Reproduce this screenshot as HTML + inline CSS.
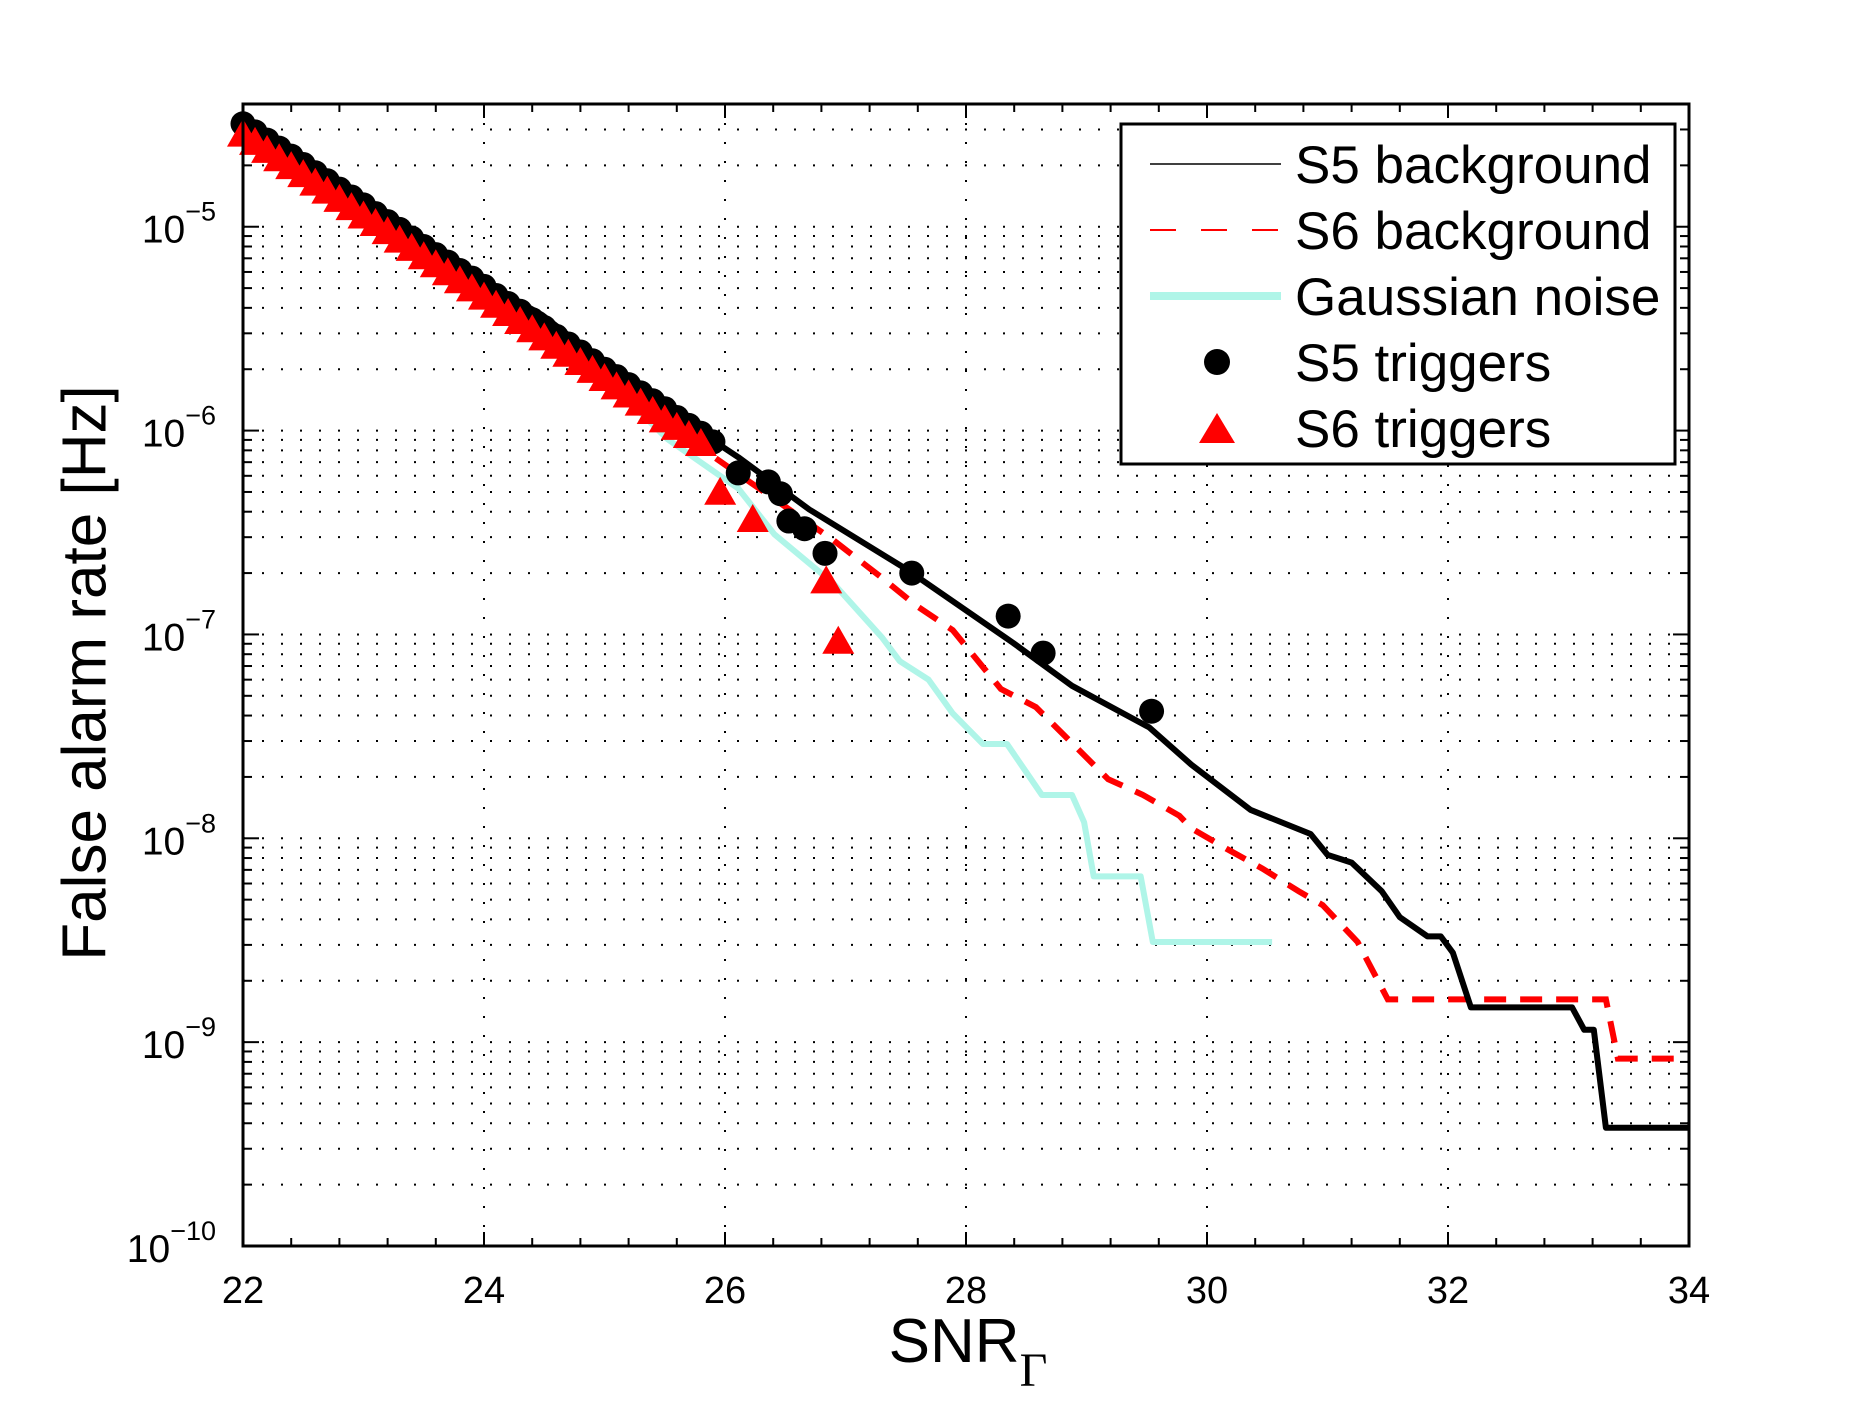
<!DOCTYPE html>
<html><head><meta charset="utf-8"><style>html,body{margin:0;padding:0;background:#fff}svg{display:block}</style></head>
<body>
<svg id="chart" width="1867" height="1404" xmlns="http://www.w3.org/2000/svg" font-family="'Liberation Sans', sans-serif">
<rect width="1867" height="1404" fill="#fff"/>
<g id="grid"></g>
<g id="ticks"></g>
<g id="series"></g>
<rect x="243" y="104" width="1446" height="1142" fill="none" stroke="#000" stroke-width="3"/>
<g id="labels"></g>
<text x="89" y="673" font-size="62" text-anchor="middle" transform="rotate(-90 89 673)" dominant-baseline="middle">False alarm rate [Hz]</text>
<text x="968" y="1362" font-size="62" text-anchor="middle">SNR<tspan font-family="'Liberation Serif', serif" font-size="48" dy="24">Γ</tspan></text>
<g>
<rect x="1121" y="124" width="554" height="340" fill="#fff" stroke="#000" stroke-width="3"/>
<line x1="1150" y1="164" x2="1281" y2="164" stroke="#000" stroke-width="1.5"/>
<text x="1295" y="183" font-size="53">S5 background</text>
<line x1="1150" y1="230" x2="1281" y2="230" stroke="#f00" stroke-width="2" stroke-dasharray="26,25"/>
<text x="1295" y="249" font-size="53">S6 background</text>
<line x1="1150" y1="296" x2="1281" y2="296" stroke="#aff5e8" stroke-width="8"/>
<text x="1295" y="315" font-size="53">Gaussian noise</text>
<circle cx="1217" cy="362" r="13" fill="#000"/>
<text x="1295" y="381" font-size="53">S5 triggers</text>
<polygon points="1217,413 1235,443 1199,443" fill="#f00"/>
<text x="1295" y="447" font-size="53">S6 triggers</text>
</g>
</svg>
<script>
const xTicks=[22,24,26,28,30,32,34];
const yDecades=[-10,-9,-8,-7,-6,-5];
const s5bgX=[22,22.95,23.94,24.48,24.93,25.52,26.11,26.7,27.5,28.39,28.88,29.52,29.87,30.36,30.86,31.0,31.2,31.45,31.6,31.83,31.94,32.04,32.19,33.03,33.13,33.21,33.31,34];
const s5bgY=[3.2e-5,1.35e-5,5.6e-6,3.7e-6,2.3e-6,1.26e-6,7.4e-7,4.1e-7,2.1e-7,9.1e-8,5.6e-8,3.5e-8,2.3e-8,1.38e-8,1.05e-8,8.3e-9,7.6e-9,5.5e-9,4.1e-9,3.3e-9,3.3e-9,2.75e-9,1.48e-9,1.48e-9,1.15e-9,1.15e-9,3.8e-10,3.8e-10];
const s6bgX=[22,24.43,25.91,26.9,27.3,27.59,27.89,28.29,28.58,29.18,29.47,29.77,29.87,30.16,30.46,30.76,30.96,31.25,31.5,33.31,33.41,34];
const s6bgY=[3.0e-5,3.2e-6,7.4e-7,2.9e-7,1.9e-7,1.38e-7,1.05e-7,5.4e-8,4.4e-8,1.95e-8,1.63e-8,1.29e-8,1.12e-8,8.9e-9,7.1e-9,5.5e-9,4.7e-9,3.1e-9,1.62e-9,1.62e-9,8.3e-10,8.3e-10];
const gaussX=[22,24.53,24.93,25.52,26.11,26.41,26.9,27.3,27.45,27.69,27.89,28.14,28.34,28.63,28.88,28.98,29.06,29.45,29.55,30.54];
const gaussY=[3.0e-5,3.0e-6,2.0e-6,9.1e-7,5.2e-7,3.1e-7,1.78e-7,9.7e-8,7.4e-8,6.0e-8,4.1e-8,2.9e-8,2.9e-8,1.63e-8,1.63e-8,1.2e-8,6.5e-9,6.5e-9,3.1e-9,3.1e-9];
const s5trigX=[22.0,22.1,22.2,22.3,22.4,22.5,22.6,22.7,22.8,22.9,23.0,23.1,23.2,23.3,23.4,23.5,23.6,23.7,23.8,23.9,24.0,24.1,24.2,24.3,24.4,24.5,24.6,24.7,24.8,24.9,25.0,25.1,25.2,25.3,25.4,25.5,25.6,25.7,25.8,25.9,26.11,26.36,26.46,26.53,26.66,26.83,27.55,28.35,28.64,29.54];
const s5trigY=[3.2e-5,2.92e-5,2.66e-5,2.43e-5,2.22e-5,2.02e-5,1.84e-5,1.68e-5,1.53e-5,1.4e-5,1.28e-5,1.16e-5,1.06e-5,9.7e-6,8.8e-6,8.0e-6,7.3e-6,6.7e-6,6.1e-6,5.6e-6,5.1e-6,4.6e-6,4.2e-6,3.85e-6,3.5e-6,3.2e-6,2.9e-6,2.66e-6,2.43e-6,2.2e-6,2.0e-6,1.84e-6,1.68e-6,1.53e-6,1.4e-6,1.28e-6,1.16e-6,1.06e-6,9.7e-7,8.8e-7,6.2e-7,5.6e-7,4.9e-7,3.6e-7,3.3e-7,2.5e-7,2.0e-7,1.23e-7,8.1e-8,4.2e-8];
const s6trigX=[22.0,22.1,22.2,22.3,22.4,22.5,22.6,22.7,22.8,22.9,23.0,23.1,23.2,23.3,23.4,23.5,23.6,23.7,23.8,23.9,24.0,24.1,24.2,24.3,24.4,24.5,24.6,24.7,24.8,24.9,25.0,25.1,25.2,25.3,25.4,25.5,25.6,25.7,25.8,25.96,26.23,26.84,26.94];
const s6trigY=[2.8e-5,2.55e-5,2.33e-5,2.12e-5,1.94e-5,1.77e-5,1.61e-5,1.47e-5,1.34e-5,1.22e-5,1.11e-5,1.02e-5,9.3e-6,8.45e-6,7.7e-6,7.0e-6,6.4e-6,5.85e-6,5.34e-6,4.87e-6,4.44e-6,4.05e-6,3.69e-6,3.37e-6,3.07e-6,2.8e-6,2.55e-6,2.33e-6,2.12e-6,1.94e-6,1.77e-6,1.61e-6,1.47e-6,1.34e-6,1.22e-6,1.11e-6,1.02e-6,9.3e-7,8.5e-7,4.9e-7,3.6e-7,1.8e-7,9.1e-8];

const L=243,R=1689,T=104,B=1246,XMIN=22,XMAX=34,LMIN=-10,LMAX=Math.log10(4e-5);
const NS='http://www.w3.org/2000/svg';
function sx(v){return L+(v-XMIN)/(XMAX-XMIN)*(R-L);}
function sy(v){return B-(Math.log10(v)-LMIN)/(LMAX-LMIN)*(B-T);}
function mk(tag,attrs,parent){const e=document.createElementNS(NS,tag);for(const k in attrs)e.setAttribute(k,attrs[k]);parent.appendChild(e);return e;}
const grid=document.getElementById('grid'),ticks=document.getElementById('ticks'),series=document.getElementById('series'),labels=document.getElementById('labels');
xTicks.forEach(function(t){
  if(t>XMIN&&t<XMAX){const g=mk('line',{x1:sx(t),x2:sx(t),y1:T,y2:B,stroke:'#000','stroke-width':2,'stroke-dasharray':'2,17'},grid);
  
  }
  const tl=mk('text',{x:sx(t),y:1303,'font-size':38,'text-anchor':'middle'},labels);
  tl.textContent=t;
  
  
  mk('line',{x1:sx(t),x2:sx(t),y1:B,y2:B-14,stroke:'#000','stroke-width':2},ticks);
  mk('line',{x1:sx(t),x2:sx(t),y1:T,y2:T+14,stroke:'#000','stroke-width':2},ticks);
});
for(let v=XMIN;v<XMAX;v+=0.4){
  mk('line',{x1:sx(v),x2:sx(v),y1:B,y2:B-8,stroke:'#000','stroke-width':2},ticks);
  mk('line',{x1:sx(v),x2:sx(v),y1:T,y2:T+8,stroke:'#000','stroke-width':2},ticks);
}
yDecades.concat([-4]).forEach(function(d){
  for(let m=1;m<=9;m++){
    const v=m*Math.pow(10,d);const y=sy(v);
    if(y<T-1||y>B+1)continue;
    if(!(m===1&&d===-10)){const g=mk('line',{x1:L,x2:R,y1:y,y2:y,stroke:'#000','stroke-width':2,'stroke-dasharray':'2,17'},grid);
    
    }
    const len=m===1?16:9;
    mk('line',{x1:L,x2:L+len,y1:y,y2:y,stroke:'#000','stroke-width':2},ticks);
    mk('line',{x1:R,x2:R-len,y1:y,y2:y,stroke:'#000','stroke-width':2},ticks);
  }
});
yDecades.forEach(function(d){
  const y=sy(Math.pow(10,d));
  const tl=mk('text',{x:216,y:y+16,'font-size':39,'text-anchor':'end'},labels);
  tl.innerHTML='10<tspan dy="-22" font-size="27">−'+(-d)+'</tspan>';
  
  
});
function path(xs,ys){return xs.map(function(x,i){return (i?'L':'M')+sx(x).toFixed(1)+','+sy(ys[i]).toFixed(1);}).join(' ');}
const gp=mk('path',{d:path(gaussX,gaussY),fill:'none',stroke:'#aff5e8','stroke-width':6,'stroke-linejoin':'round'},series);


const s6p=mk('path',{d:path(s6bgX,s6bgY),fill:'none',stroke:'#f00','stroke-width':6,'stroke-dasharray':'22,14'},series);


const s5p=mk('path',{d:path(s5bgX,s5bgY),fill:'none',stroke:'#000','stroke-width':6,'stroke-linejoin':'round'},series);


s5trigX.forEach(function(x,i){
  const c=mk('circle',{cx:sx(x),cy:sy(s5trigY[i]),r:12.5,fill:'#000'},series);
  
  
});
s6trigX.forEach(function(x,i){
  const cx=sx(x),cy=sy(s6trigY[i]);
  const p=mk('polygon',{points:(cx)+','+(cy-17)+' '+(cx+16)+','+(cy+11)+' '+(cx-16)+','+(cy+11),fill:'#f00'},series);
  
  
});
</script>
</body></html>
